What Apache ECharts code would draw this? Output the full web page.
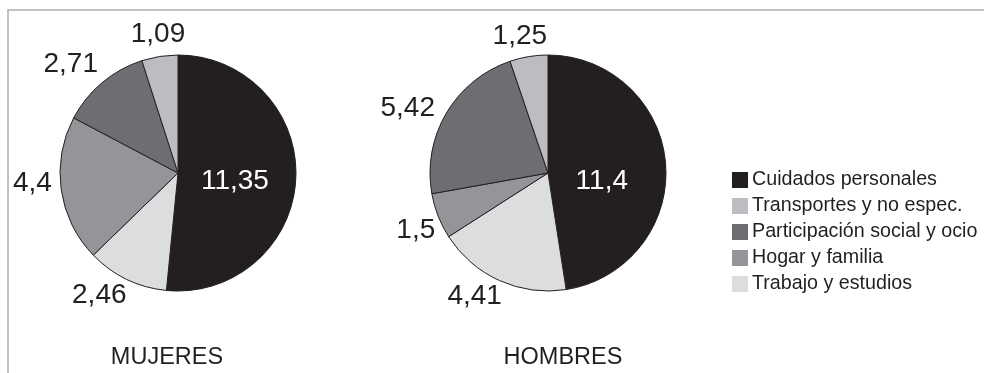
<!DOCTYPE html>
<html>
<head>
<meta charset="utf-8">
<script src="https://cdn.jsdelivr.net/npm/echarts@6/dist/echarts.min.js"></script>
<style>
  html, body { margin: 0; padding: 0; background: #ffffff; }
  #chart { width: 984px; height: 373px; }
</style>
</head>
<body>
<div id="chart"></div>
<script>
// Categories in clockwise order starting at 12 o'clock
const categories = [
  'Cuidados personales',
  'Trabajo y estudios',
  'Hogar y familia',
  'Participación social y ocio',
  'Transportes y no espec.'
];
// Legend order
const legendOrder = [
  'Cuidados personales',
  'Transportes y no espec.',
  'Participación social y ocio',
  'Hogar y familia',
  'Trabajo y estudios'
];
const mujeres = [11.35, 2.46, 4.4, 2.71, 1.09];
const hombres = [11.4, 4.41, 1.5, 5.42, 1.25];
const groupTitles = ['MUJERES', 'HOMBRES'];

// Small label nudges (px) so value labels sit clear of neighbouring slices
const mujeresLabelNudge = [[-5, 5], [-17, -6], [-5, -10], [-16, 0], [2, 2]];
const hombresLabelNudge = [[-8, 13], [-15, -6], [0, 5], [-18, 7], [-5, 3]];

const palette = {
  'Cuidados personales': '#231f20',
  'Trabajo y estudios': '#dcdddf',
  'Hogar y familia': '#939598',
  'Participación social y ocio': '#6d6e71',
  'Transportes y no espec.': '#bcbdc0'
};

const FONT = '"Liberation Sans", Arial, sans-serif';
const INK = '#231f20';
const LABEL_SIZE = 28;
const fmt = p => String(p.value).replace('.', ',');

function pieSeries(values, center, nudge) {
  const data = categories.map((c, i) => {
    const item = { name: c, value: values[i], itemStyle: { color: palette[c] } };
    if (i === 0) {
      item.label = {
        show: true, position: 'inside', color: '#ffffff',
        fontSize: LABEL_SIZE, fontFamily: FONT, formatter: fmt, offset: nudge[0]
      };
    }
    return item;
  });
  return {
    type: 'pie',
    center: center,
    radius: [0, 118],
    startAngle: 90,
    clockwise: true,
    silent: true,
    animation: false,
    avoidLabelOverlap: false,
    itemStyle: { borderColor: INK, borderWidth: 1 },
    label: { show: false },
    labelLine: { show: false },
    emphasis: { disabled: true },
    data: data
  };
}

// Transparent ring that carries the outer value labels around each pie
function labelRing(values, center, nudge) {
  const data = categories.map((c, i) => ({
    name: c,
    value: values[i],
    label: { show: i !== 0, offset: nudge[i] }
  }));
  return {
    type: 'pie',
    center: center,
    radius: [118, 160],
    startAngle: 90,
    clockwise: true,
    silent: true,
    animation: false,
    legendHoverLink: false,
    itemStyle: { color: 'transparent', borderWidth: 0 },
    label: { position: 'inside', color: INK, fontSize: LABEL_SIZE, fontFamily: FONT, formatter: fmt },
    labelLine: { show: false },
    emphasis: { disabled: true },
    tooltip: { show: false },
    data: data
  };
}

const chart = echarts.init(document.getElementById('chart'), null, { renderer: 'canvas' });

chart.setOption({
  backgroundColor: '#ffffff',
  animation: false,
  color: categories.map(c => palette[c]),
  title: [
    { text: groupTitles[0], left: 162, top: 341, textAlign: 'center',
      textStyle: { fontFamily: FONT, fontSize: 23.5, fontWeight: 'normal', color: INK } },
    { text: groupTitles[1], left: 558, top: 341, textAlign: 'center',
      textStyle: { fontFamily: FONT, fontSize: 23.5, fontWeight: 'normal', color: INK } }
  ],
  legend: {
    orient: 'vertical',
    left: 732,
    top: 170,
    padding: 0,
    itemWidth: 16,
    itemHeight: 16,
    itemGap: 6,
    icon: 'rect',
    selectedMode: false,
    data: legendOrder,
    itemStyle: { borderWidth: 0 },
    textStyle: { fontFamily: FONT, fontSize: 19.7, color: INK, padding: [0, 0, 0, -1] }
  },
  graphic: [
    {
      type: 'rect',
      silent: true,
      shape: { x: 8, y: 10, width: 1000, height: 400 },
      style: { fill: 'none', stroke: '#aeaeae', lineWidth: 1.5 }
    }
  ],
  series: [
    pieSeries(mujeres, [178, 173], mujeresLabelNudge),
    labelRing(mujeres, [178, 173], mujeresLabelNudge),
    pieSeries(hombres, [548, 173], hombresLabelNudge),
    labelRing(hombres, [548, 173], hombresLabelNudge)
  ]
});
</script>
</body>
</html>
